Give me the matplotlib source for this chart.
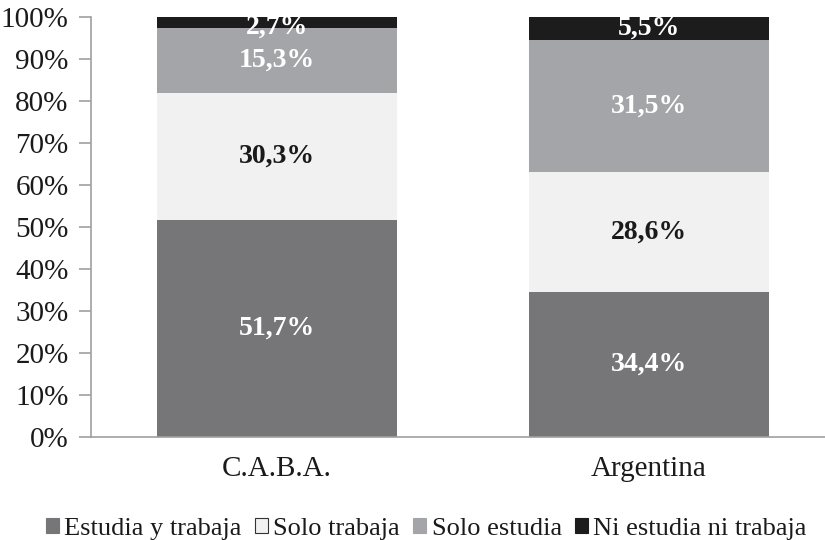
import matplotlib
matplotlib.use("Agg")
import matplotlib.pyplot as plt
from matplotlib.patches import Patch
import numpy as np

categories = ["C.A.B.A.", "Argentina"]
series_names = ["Estudia y trabaja", "Solo trabaja", "Solo estudia", "Ni estudia ni trabaja"]
estudia_trabaja = [51.7, 34.4]
solo_trabaja = [30.3, 28.6]
solo_estudia = [15.3, 31.5]
ni_ni = [2.7, 5.5]
yticks = [0, 10, 20, 30, 40, 50, 60, 70, 80, 90, 100]

colors = ["#767679", "#f1f1f1", "#a4a5a8", "#1c1c1c"]
legend_edges = ["#767679", "#333333", "#a4a5a8", "#1c1c1c"]
text_colors = ["white", "#1a1a1a", "white", "white"]

plt.rcParams["font.family"] = ["Liberation Serif", "DejaVu Serif"]

fig = plt.figure(figsize=(8.25, 5.4), dpi=100)
ax = fig.add_axes([0.110, 0.191, 0.890, 0.7775])

x = np.arange(len(categories))
bottom = np.zeros(len(categories))
data = [estudia_trabaja, solo_trabaja, solo_estudia, ni_ni]
for vals, name, col, tcol in zip(data, series_names, colors, text_colors):
    vals = np.array(vals)
    ax.bar(x, vals, 0.645, bottom=bottom, color=col, edgecolor="none")
    for xi, v, b in zip(x, vals, bottom):
        yc = b + v / 2
        if v < 4:
            yc = b + v / 2 - 1.0
        ax.text(xi, yc, f"{v:.1f}%".replace(".", ","), ha="center", va="center",
                color=tcol, fontsize=20, fontweight="bold", clip_on=True)
    bottom = bottom + vals

ax.set_xlim(-0.5, 1.473)
ax.set_ylim(0, 100)
ax.set_yticks(yticks)
ax.set_yticklabels([f"{t}%" for t in yticks])
ax.set_xticks(x)
ax.set_xticklabels(categories)
ax.tick_params(axis="y", length=9, width=1.2, color="#a0a0a0", labelsize=21, pad=7,
               labelcolor="#1a1a1a")
ax.tick_params(axis="x", length=0, labelsize=21, pad=14, labelcolor="#1a1a1a")
for s in ["top", "right"]:
    ax.spines[s].set_visible(False)
for s in ["left", "bottom"]:
    ax.spines[s].set_color("#a0a0a0")
    ax.spines[s].set_linewidth(1.2)

handles = [Patch(facecolor=c, edgecolor=e, linewidth=0.8) for c, e in zip(colors, legend_edges)]
ax.legend(handles, series_names, loc="center", bbox_to_anchor=(0.457, -0.219), ncol=4,
          frameon=False, fontsize=19, handlelength=0.5, handleheight=0.5,
          handletextpad=0.2, columnspacing=0.5, borderaxespad=0, labelcolor="#1a1a1a")

fig.savefig("out.png", dpi=100)
